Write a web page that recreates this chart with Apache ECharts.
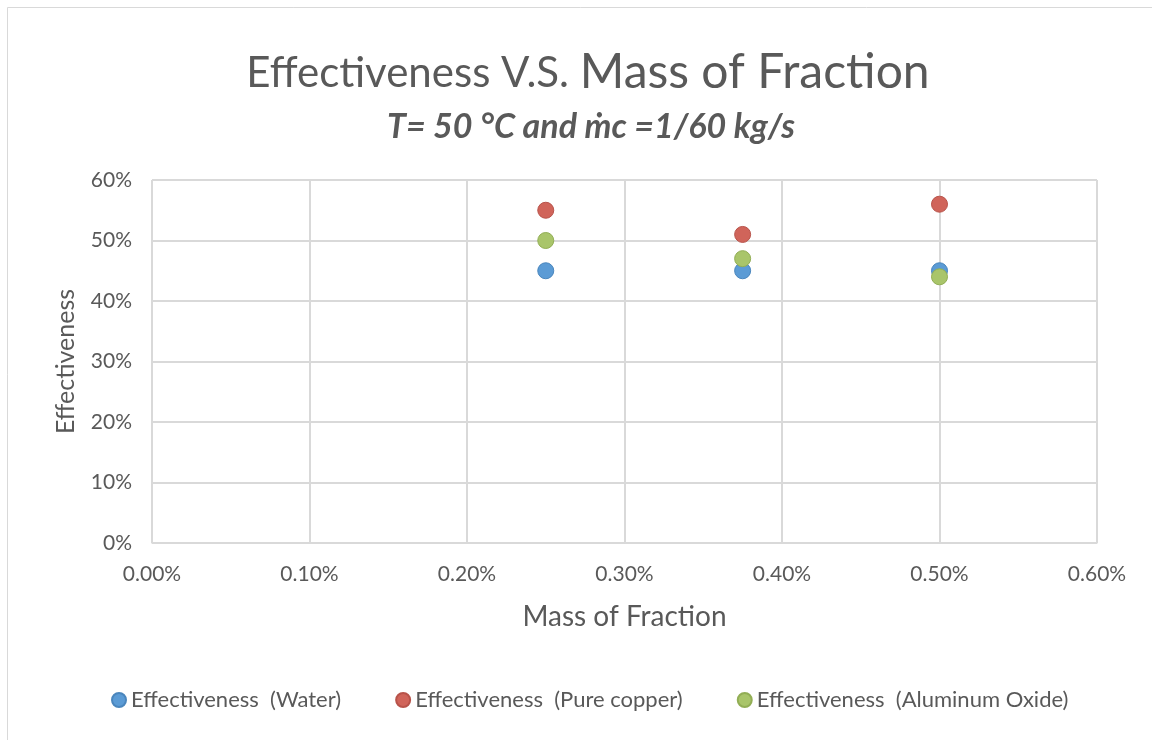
<!DOCTYPE html>
<html>
<head>
<meta charset="utf-8">
<script src="https://cdn.jsdelivr.net/npm/echarts@6/dist/echarts.min.js"></script>
<style>
  html, body { margin: 0; padding: 0; background: #fff; }
  #chart { width: 1152px; height: 740px; }
</style>
</head>
<body>
<div id="chart"></div>
<script>
// mass fraction (as fraction, 0.0025 = 0.25%)
const massFraction = [0.0025, 0.00375, 0.005]
const water = [0.45, 0.45, 0.45]
const pureCopper = [0.55, 0.51, 0.56]
const aluminumOxide = [0.50, 0.47, 0.44]
const seriesNames = ['Effectiveness  (Water)', 'Effectiveness  (Pure copper)', 'Effectiveness  (Aluminum Oxide)']
const seriesColors = ['#5B9BD5', '#D0645A', '#A9C56A']
const borderColors = ['#4A86BD', '#B8534A', '#92AE55']

const font = 'Lato, "Open Sans", sans-serif'

function pairs (ys) {
  return massFraction.map((x, i) => [x, ys[i]])
}

const chart = echarts.init(document.getElementById('chart'))
const option = {
  backgroundColor: '#fff',
  textStyle: { fontFamily: font },
  graphic: [
    {
      type: 'rect',
      shape: { x: 7.5, y: 7.5, width: 1160, height: 760 },
      style: { fill: 'none', stroke: '#D9D9D9', lineWidth: 1 },
      silent: true
    }
  ],
  title: [
    {
      text: '{a|Effectiveness V.S. }{b|Mass of Fraction}',
      left: 583,
      textAlign: 'center',
      top: 44,
      textStyle: {
        rich: {
          a: { fontFamily: font, fontSize: 42, color: '#595959', fontWeight: 'normal' },
          b: { fontFamily: font, fontSize: 48, color: '#595959', fontWeight: 'normal' }
        }
      }
    },
    {
      text: 'T= 50 °C and ṁc =1/60 kg/s',
      left: 586,
      textAlign: 'center',
      top: 105,
      textStyle: { fontFamily: font, fontSize: 34, fontStyle: 'italic', fontWeight: 'bold', color: '#595959' }
    }
  ],
  legend: {
    left: 106,
    top: 684,
    icon: 'circle',
    itemWidth: 14,
    itemHeight: 14,
    itemGap: 54,
    textStyle: { fontFamily: font, fontSize: 22, color: '#595959' },
    data: seriesNames
  },
  grid: { left: 152, right: 55, top: 180, bottom: 197 },
  xAxis: {
    type: 'value',
    min: 0,
    max: 0.006,
    interval: 0.001,
    name: 'Mass of Fraction',
    nameLocation: 'middle',
    nameGap: 60,
    nameTextStyle: { fontFamily: font, fontSize: 28, color: '#595959' },
    axisLine: { lineStyle: { color: '#D9D9D9' } },
    axisTick: { show: false },
    axisLabel: {
      margin: 21,
      fontFamily: font,
      fontSize: 21,
      color: '#595959',
      formatter: v => (v * 100).toFixed(2) + '%'
    },
    splitLine: { lineStyle: { color: '#D9D9D9', width: 2 } }
  },
  yAxis: {
    type: 'value',
    min: 0,
    max: 0.6,
    interval: 0.1,
    name: 'Effectiveness',
    nameLocation: 'middle',
    nameGap: 74,
    nameTextStyle: { fontFamily: font, fontSize: 25, color: '#595959' },
    axisLine: { show: true, lineStyle: { color: '#D9D9D9' } },
    axisTick: { show: false },
    axisLabel: {
      margin: 20,
      fontFamily: font,
      fontSize: 21,
      color: '#595959',
      formatter: v => Math.round(v * 100) + '%'
    },
    splitLine: { lineStyle: { color: '#D9D9D9', width: 2 } }
  },
  series: [water, pureCopper, aluminumOxide].map((ys, i) => ({
    name: seriesNames[i],
    type: 'scatter',
    symbol: 'circle',
    symbolSize: 16,
    data: pairs(ys),
    itemStyle: { color: seriesColors[i], borderColor: borderColors[i], borderWidth: 1, opacity: 1 }
  }))
}
chart.setOption(option)
</script>
</body>
</html>
